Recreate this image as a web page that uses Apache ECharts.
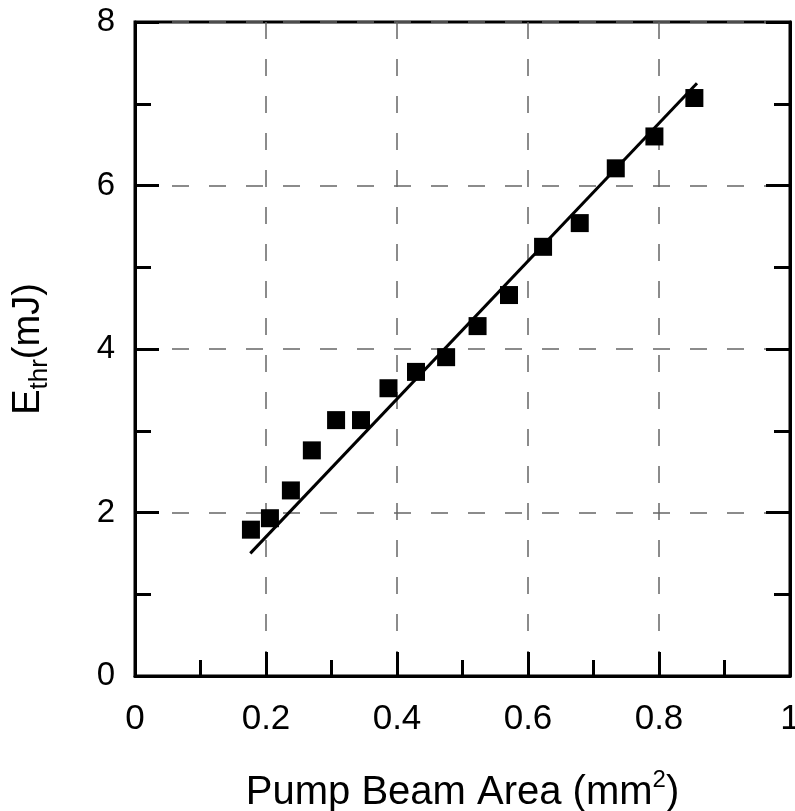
<!DOCTYPE html>
<html>
<head>
<meta charset="utf-8">
<script src="https://cdn.jsdelivr.net/npm/echarts@6/dist/echarts.min.js"></script>
<style>
  html, body { margin: 0; padding: 0; background: #ffffff; }
  #chart { width: 795px; height: 811px; }
</style>
</head>
<body>
<div id="chart"></div>
<script>
// Measured threshold energy versus pump beam area
const pumpArea = [0.177, 0.206, 0.238, 0.270, 0.307, 0.345, 0.387, 0.429,
                  0.475, 0.523, 0.571, 0.623, 0.679, 0.734, 0.793, 0.854];
const thresholdEnergy = [1.79, 1.93, 2.27, 2.76, 3.13, 3.13, 3.52, 3.72,
                         3.90, 4.28, 4.66, 5.25, 5.54, 6.21, 6.60, 7.07];

// Linear fit, end points
const fitArea = [0.176, 0.858];
const fitEnergy = [1.50, 7.25];

// Axis ranges and tick steps
const xRange = [0, 1];
const xStep = 0.2;
const yRange = [0, 8];
const yStep = 2;

const FONT = "'Liberation Sans', Arial, Helvetica, sans-serif";
const INK = '#000000';

const gridDash = { color: '#666666', width: 1.5, type: [17, 20] };

function axisBase() {
  return {
    type: 'value',
    axisLine: { show: true, onZero: false, lineStyle: { color: INK, width: 3 } },
    axisTick: { show: true, inside: true, length: 24, lineStyle: { color: INK, width: 3 } },
    minorTick: { show: true, splitNumber: 2, length: 16, lineStyle: { color: INK, width: 3 } },
    minorSplitLine: { show: false }
  };
}

const chart = echarts.init(document.getElementById('chart'), null, { renderer: 'canvas' });

chart.setOption({
  animation: false,
  backgroundColor: '#ffffff',
  grid: {
    left: 135, right: 5, top: 22, bottom: 135,
    containLabel: false,
    outerBoundsMode: 'none',
    show: true, borderColor: INK, borderWidth: 3, backgroundColor: 'transparent'
  },
  xAxis: Object.assign(axisBase(), {
    min: xRange[0], max: xRange[1], interval: xStep,
    position: 'bottom',
    splitLine: { show: true, lineStyle: gridDash },
    axisLabel: {
      margin: 26, color: INK, fontSize: 35, fontFamily: FONT,
      formatter: v => String(+v.toFixed(1))
    },
    name: '{t|Pump Beam Area (mm}{sup|2}{t|)}',
    nameLocation: 'middle',
    nameGap: 92,
    nameTextStyle: {
      rich: {
        t: { fontSize: 40, fontFamily: FONT, color: INK, lineHeight: 50 },
        sup: { fontSize: 24, fontFamily: FONT, color: INK, lineHeight: 30, verticalAlign: 'top' }
      }
    }
  }),
  yAxis: [
    Object.assign(axisBase(), {
      min: yRange[0], max: yRange[1], interval: yStep,
      position: 'left',
      splitLine: { show: true, lineStyle: gridDash },
      axisLabel: { margin: 20, color: INK, fontSize: 33, fontFamily: FONT },
      name: '{e|E}{s|thr}{e|(mJ)}',
      nameLocation: 'middle',
      nameRotate: 90,
      nameGap: 82,
      nameTextStyle: {
        rich: {
          e: { fontSize: 38, fontFamily: FONT, color: INK, lineHeight: 48 },
          s: { fontSize: 26, fontFamily: FONT, color: INK, lineHeight: 26, verticalAlign: 'bottom' }
        }
      }
    }),
    Object.assign(axisBase(), {
      min: yRange[0], max: yRange[1], interval: yStep,
      position: 'right',
      splitLine: { show: false },
      axisLabel: { show: false }
    })
  ],
  series: [
    {
      type: 'line',
      name: 'fit',
      data: fitArea.map((a, i) => [a, fitEnergy[i]]),
      showSymbol: false,
      symbol: 'none',
      lineStyle: { color: INK, width: 3 },
      z: 3
    },
    {
      type: 'scatter',
      name: 'measured',
      data: pumpArea.map((a, i) => [a, thresholdEnergy[i]]),
      symbol: 'rect',
      symbolSize: 18,
      itemStyle: { color: INK, opacity: 1 },
      z: 4
    }
  ]
});
</script>
</body>
</html>
